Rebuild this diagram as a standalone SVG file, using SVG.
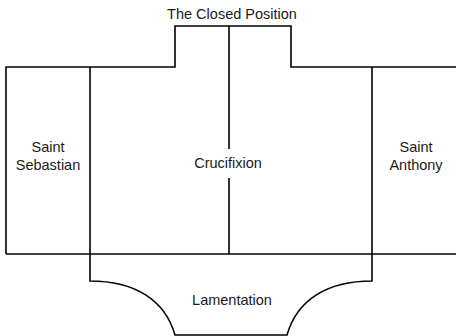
<svg xmlns="http://www.w3.org/2000/svg" width="456" height="336" viewBox="0 0 456 336">
<style>
.ln{fill:none;stroke:#000;stroke-width:1.6;stroke-linejoin:miter}
.t{font-family:"Liberation Sans",Arial,Helvetica,sans-serif;font-size:14.5px;fill:#1a1a1a;text-anchor:middle}
</style>
<rect width="456" height="336" fill="#fff"/>
<g id="title"><text class="t" x="232" y="19">The Closed Position</text></g>
<g id="frame">
<path class="ln" d="M6,254 V67 H175 V26 H291 V67 H456"/>
<path class="ln" d="M6,254 H456"/>
</g>
<g id="saint-sebastian">
<path class="ln" d="M90,67 V254"/>
<text class="t" x="48" y="152">Saint</text>
<text class="t" x="48" y="170">Sebastian</text>
</g>
<g id="crucifixion">
<path class="ln" d="M229,26 V149 M229,178 V254"/>
<text class="t" x="228" y="168">Crucifixion</text>
</g>
<g id="saint-anthony">
<path class="ln" d="M372,67 V254"/>
<text class="t" x="416" y="152">Saint</text>
<text class="t" x="416" y="170">Anthony</text>
</g>
<g id="lamentation">
<path class="ln" d="M90,254 V281 C135,281 165,300 175,335 H287 C297,300 327,281 372,281 V254"/>
<text class="t" x="232" y="305">Lamentation</text>
</g>
<g id="connectors"></g>
</svg>
